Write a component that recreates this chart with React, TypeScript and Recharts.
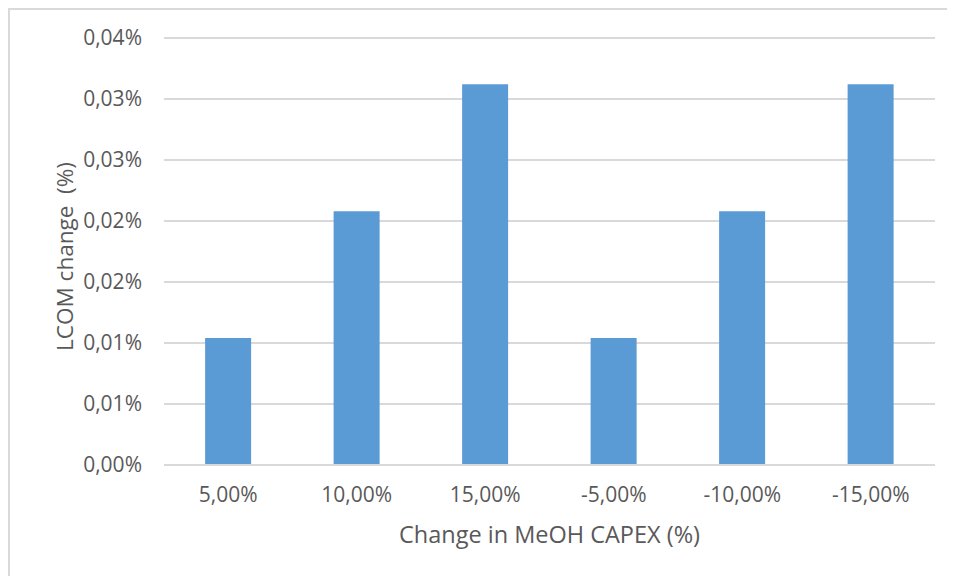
import { BarChart, Bar, XAxis, YAxis, CartesianGrid, Label } from "recharts";

// Sensitivity of LCOM to MeOH CAPEX changes (values in %)
const capexChanges = ["5,00%", "10,00%", "15,00%", "-5,00%", "-10,00%", "-15,00%"];
const lcomChanges = [0.0104, 0.0208, 0.0312, 0.0104, 0.0208, 0.0312];

const yTicks = [0, 0.005, 0.01, 0.015, 0.02, 0.025, 0.03, 0.035];
const yTickLabels = ["0,00%", "0,01%", "0,01%", "0,02%", "0,02%", "0,03%", "0,03%", "0,04%"];

const COLORS = {
    bar: "#5b9bd5",
    grid: "#d9d9d9",
    text: "#595959",
};

const FONT = "'Open Sans', sans-serif";

const data = capexChanges.map((name, i) => ({ name, value: lcomChanges[i] }));

export default function App() {
    return (
        <div
            style={{
                width: 947,
                height: 568,
                borderLeft: `2px solid ${COLORS.grid}`,
                borderTop: `2px solid ${COLORS.grid}`,
                boxSizing: "border-box",
                background: "#fff",
                fontFamily: FONT,
            }}
        >
            <BarChart
                width={945}
                height={566}
                data={data}
                margin={{ top: 28, right: 20, left: 0, bottom: 0 }}
                barCategoryGap="32%"
            >
                <CartesianGrid vertical={false} stroke={COLORS.grid} strokeWidth={2} />
                <XAxis
                    dataKey="name"
                    height={111}
                    tickSize={0}
                    tickMargin={22}
                    axisLine={{ stroke: COLORS.grid, strokeWidth: 2 }}
                    tick={{ fill: COLORS.text, fontSize: 21, fontFamily: FONT }}
                >
                    <Label
                        value="Change in MeOH CAPEX (%)"
                        position="center"
                        dy={14}
                        style={{ fill: COLORS.text, fontSize: 23.5, fontFamily: FONT }}
                    />
                </XAxis>
                <YAxis
                    width={154}
                    domain={[0, 0.035]}
                    ticks={yTicks}
                    interval={0}
                    tickSize={0}
                    tickMargin={22}
                    axisLine={false}
                    tickFormatter={(v: number) => yTickLabels[yTicks.indexOf(v)] ?? ""}
                    tick={{ fill: COLORS.text, fontSize: 21, fontFamily: FONT }}
                >
                    <Label
                        value={"LCOM change\u00a0\u00a0(%)"}
                        angle={-90}
                        position="center"
                        dx={-22}
                        dy={5}
                        style={{ fill: COLORS.text, fontSize: 22.5, fontFamily: FONT }}
                    />
                </YAxis>
                <Bar dataKey="value" fill={COLORS.bar} isAnimationActive={false} />
            </BarChart>
        </div>
    );
}
